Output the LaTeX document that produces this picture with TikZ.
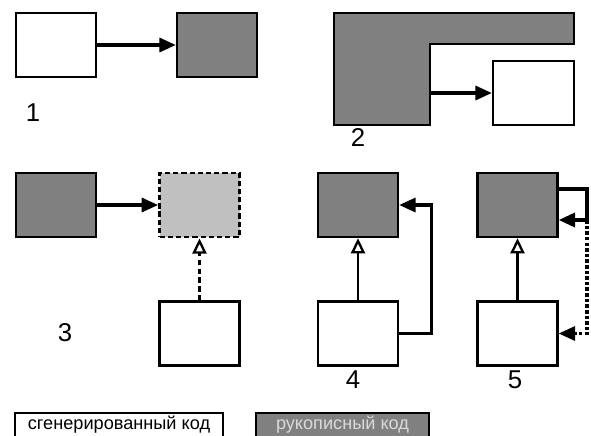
\documentclass[tikz,border=0pt]{standalone}
\usepackage{fontspec}
\setmainfont{Liberation Sans}
\usetikzlibrary{arrows.meta}

\definecolor{manuel}{RGB}{128,128,128}
\definecolor{virtuel}{RGB}{192,192,192}

\begin{document}
\begin{tikzpicture}[x=0.03cm, y=-0.03cm,
    bloc/.style={rectangle, draw, line width=2pt, inner sep=0pt,
                 minimum width=2.4cm, minimum height=1.92cm},
    gen/.style={bloc, fill=white},
    main/.style={bloc, fill=manuel},
    virt/.style={bloc, fill=virtuel, line width=2.4pt, dash pattern=on 4.5pt off 2.5pt},
    fleche/.style={line width=2.6pt, -{Triangle[length=14pt, width=12pt]}},
    herit/.style={line width=2pt, -{Triangle[open, fill=white, length=13pt, width=12pt]}},
    num/.style={font=\fontsize{22}{22}\selectfont},
    legende/.style={rectangle, draw, line width=1.6pt, inner sep=0pt,
                 minimum height=0.72cm, font=\fontsize{15.5}{15.5}\selectfont}]
  \clip (0,0) rectangle (591,435);

  % Cas 1
  \node[gen]  (g1) at (56,45)  {};
  \node[main] (m1) at (217,45) {};
  \draw[fleche] (g1) -- (m1);
  \node[num] (n1) at (33,113) {1};

  % Cas 2
  \draw[line width=2pt, fill=manuel]
    (334,13) -- (574,13) -- (574,44) -- (430,44) -- (430,125) -- (334,125) -- cycle;
  \coordinate (m2) at (430,93);
  \node[gen, minimum width=2.43cm] (g2) at (533.5,93) {};
  \draw[fleche] (m2) -- (g2);
  \node[num] (n2) at (358,137) {2};

  % Cas 3
  \node[main] (m3) at (56,205)     {};
  \node[virt] (v3) at (199.5,205)  {};
  \node[gen]  (g3) at (199.5,333.5) {};
  \draw[fleche] (m3) -- (v3);
  \draw[herit, dash pattern=on 4.5pt off 3pt] (g3) -- (v3);
  \node[num] (n3) at (65,333) {3};

  % Cas 4
  \node[main] (m4) at (358,205)   {};
  \node[gen]  (g4) at (358,333.5) {};
  \draw[herit] (g4) -- (m4);
  \draw[fleche] (g4.east) -- ++(32,0) |- (m4.east);
  \node[num] (n4) at (353,380) {4};

  % Cas 5
  \node[main] (m5) at (517.5,205)   {};
  \node[gen]  (g5) at (517.5,333.5) {};
  \draw[herit] (g5) -- (m5);
  \coordinate (c5) at (587,220);
  \draw[line width=3pt] ([yshift=0.48cm]m5.east) -| (c5);
  \draw[fleche, line width=3pt] (c5) -- (c5 -| m5.east);
  \draw[fleche, dash pattern=on 3pt off 1.8pt] (c5) |- (g5.east);
  \node[num] (n5) at (515,380) {5};

  % Legende
  \node[legende, fill=white, minimum width=6.24cm] (lg) at (119,425) {сгенерированный код};
  \node[legende, fill=manuel, text=white!85!black, minimum width=5.19cm] (lm) at (342.5,425) {рукописный код};
\end{tikzpicture}
\end{document}
